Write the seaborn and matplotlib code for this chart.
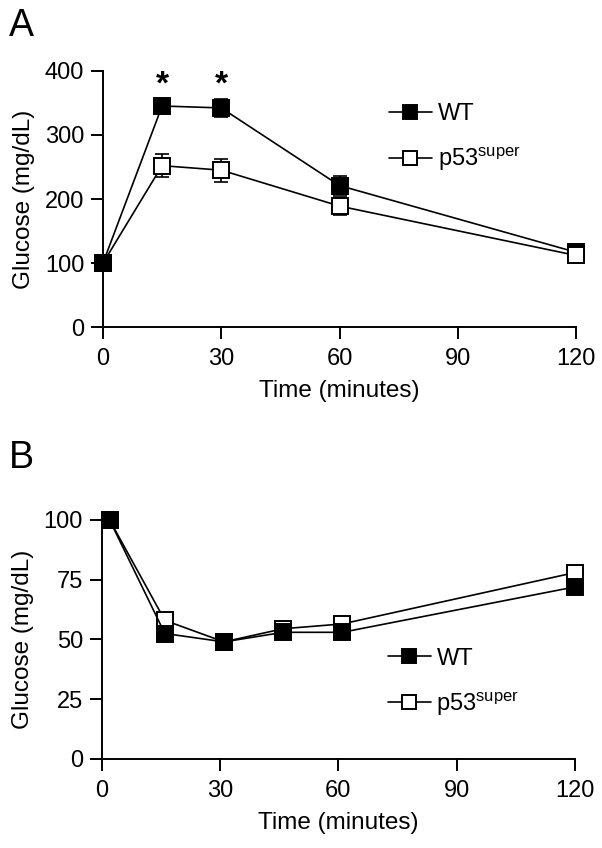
"""Glucose tolerance (A) and insulin tolerance (B) curves, WT vs p53super."""

import matplotlib
matplotlib.use("Agg")
import matplotlib.pyplot as plt
import seaborn as sns
import pandas as pd
from matplotlib.lines import Line2D

# panel A: glucose tolerance test
gtt_time = [0, 15, 30, 60, 120]
gtt_wt = [100, 345, 342, 221, 117]
gtt_wt_err = [4, 9, 14, 15, 6]
gtt_p53 = [100, 252, 245, 189, 112]
gtt_p53_err = [4, 18, 18, 14, 5]
star_times = [15, 30]

# panel B: insulin tolerance test (% of initial)
itt_time = [2, 16, 31, 46, 61, 120]
itt_wt = [100, 52.5, 49, 53, 53, 72]
itt_p53 = [100, 58, 49, 54.5, 56.5, 78]

labels = ["WT", "p53$^{super}$"]

sns.set_theme(style="ticks")
plt.rcParams["font.family"] = ["Liberation Sans", "DejaVu Sans"]
plt.rcParams["mathtext.fontset"] = "custom"
plt.rcParams["mathtext.rm"] = "Liberation Sans"
plt.rcParams["mathtext.it"] = "Liberation Sans"
for key in ["text.color", "axes.labelcolor", "xtick.color", "ytick.color", "axes.edgecolor"]:
    plt.rcParams[key] = "black"

fig = plt.figure(figsize=(6.02, 8.48), dpi=100)
ax_a = fig.add_axes([0.171, 0.614, 0.786, 0.3026])
ax_b = fig.add_axes([0.169, 0.105, 0.786, 0.2818])

MS = 11
MEW = 1.4
LW = 1.2
FS = 17


def draw_series(ax, t, y, filled, z, err=None):
    df = pd.DataFrame({"t": t, "y": y})
    if err is not None:
        ax.errorbar(t, y, yerr=err, fmt="none", ecolor="black", elinewidth=1.2,
                    capsize=5, capthick=1.2, zorder=z - 0.5, clip_on=False)
    sns.lineplot(data=df, x="t", y="y", ax=ax, color="black", lw=LW, marker="s",
                 markersize=MS, markeredgewidth=MEW, markeredgecolor="black",
                 markerfacecolor="black" if filled else "white",
                 zorder=z, clip_on=False)


def style_axes(ax, ymax, yticks):
    ax.set_xlim(0, 120)
    ax.set_ylim(0, ymax)
    ax.set_xticks([0, 30, 60, 90, 120])
    ax.set_yticks(yticks)
    ax.set_xlabel("Time (minutes)", fontsize=FS + 0.5, labelpad=7)
    ax.set_ylabel("Glucose (mg/dL)", fontsize=FS + 0.5, labelpad=7)
    for side in ["top", "right"]:
        ax.spines[side].set_visible(False)
    for side in ["left", "bottom"]:
        ax.spines[side].set_linewidth(1.4)
    ax.tick_params(direction="out", length=8.5, width=1.4, labelsize=FS)
    ax.tick_params(axis="x", pad=6.5)
    ax.tick_params(axis="y", pad=5)


def add_legend(ax, anchor):
    handles = [
        Line2D([], [], color="black", lw=LW, marker="s", markersize=MS - 1,
               markerfacecolor="black", markeredgecolor="black", markeredgewidth=MEW),
        Line2D([], [], color="black", lw=LW, marker="s", markersize=MS - 1,
               markerfacecolor="white", markeredgecolor="black", markeredgewidth=MEW),
    ]
    ax.legend(handles, labels, loc="upper left", bbox_to_anchor=anchor, frameon=False,
              fontsize=FS, handlelength=1.8, handletextpad=0.25, labelspacing=0.85,
              borderaxespad=0, borderpad=0)


# panel A: open squares drawn over filled, except the shared baseline point
draw_series(ax_a, gtt_time, gtt_wt, True, 3, gtt_wt_err)
draw_series(ax_a, gtt_time, gtt_p53, False, 5, gtt_p53_err)
ax_a.plot(gtt_time[:1], gtt_wt[:1], "s", ms=MS, mfc="black", mec="black", mew=MEW,
          zorder=6, clip_on=False)
for t in star_times:
    ax_a.text(t, 378, "*", ha="center", va="center", fontsize=24, fontweight="bold")
style_axes(ax_a, 400, [0, 100, 200, 300, 400])
add_legend(ax_a, (0.605, 0.873))

# panel B: filled squares on top
draw_series(ax_b, itt_time, itt_p53, False, 3)
draw_series(ax_b, itt_time, itt_wt, True, 4)
style_axes(ax_b, 100, [0, 25, 50, 75, 100])
add_legend(ax_b, (0.605, 0.466))

fig.text(0.015, 0.99, "A", fontsize=27, va="top", ha="left")
fig.text(0.015, 0.481, "B", fontsize=27, va="top", ha="left")

fig.savefig("out.png", dpi=100)
